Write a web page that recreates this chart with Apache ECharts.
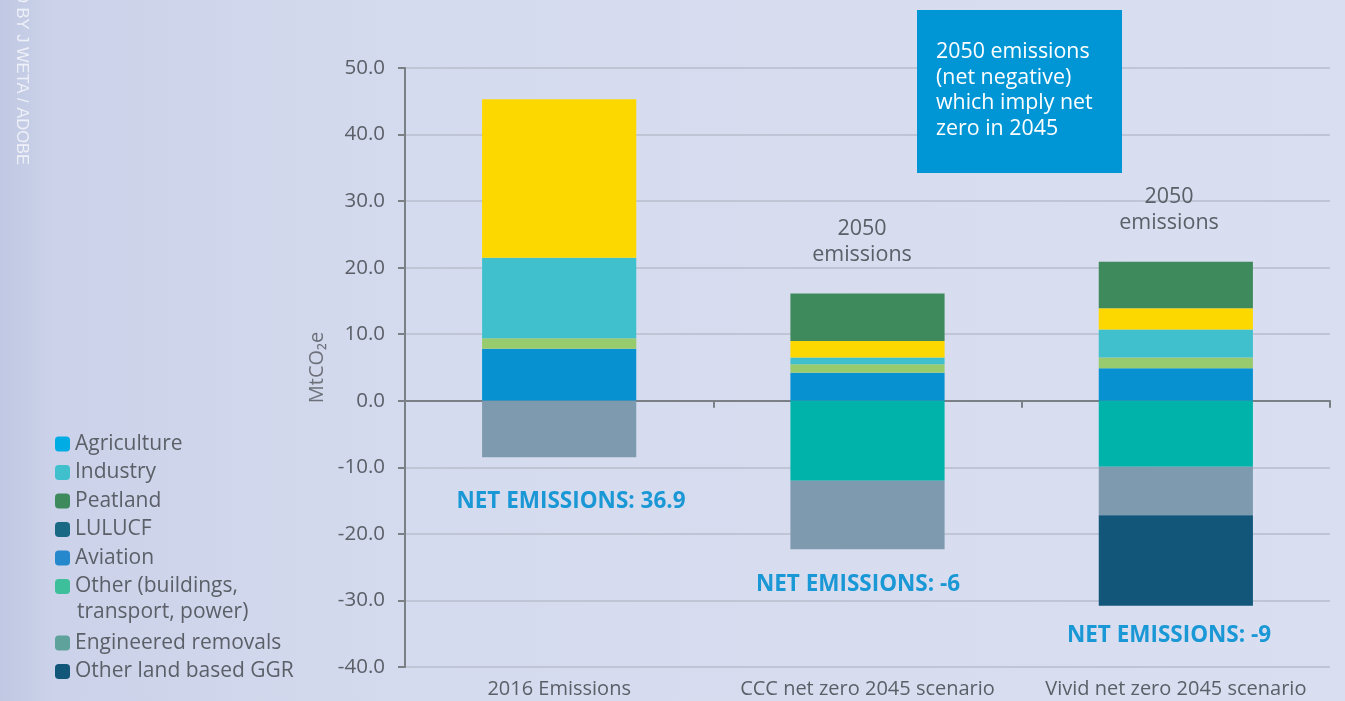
<!DOCTYPE html>
<html>
<head>
<meta charset="utf-8">
<script src="https://cdn.jsdelivr.net/npm/echarts@6/dist/echarts.min.js"></script>
<style>
  html, body { margin: 0; padding: 0; }
  #chart { width: 1345px; height: 701px; }
</style>
</head>
<body>
<div id="chart"></div>
<script>
// values, MtCO2e
var categories = ['2016 Emissions', 'CCC net zero 2045 scenario', 'Vivid net zero 2045 scenario'];
var agriculture = [7.8, 4.2, 4.9];
var aviation = [1.6, 1.3, 1.6];
var industry = [12.1, 1.0, 4.2];
var otherSectors = [23.8, 2.5, 3.2];
var peatland = [null, 7.1, 7.0];
var engineered = [null, -12.0, -9.9];
var lulucf = [-8.5, -10.3, -7.3];
var landGGR = [null, null, -13.6];
var netLabels = ['NET EMISSIONS: 36.9', 'NET EMISSIONS: -6', 'NET EMISSIONS: -9'];
var yTicks = [-40, -30, -20, -10, 0, 10, 20, 30, 40, 50];

var chart = echarts.init(document.getElementById('chart'));
var font = '"Open Sans", "Noto Sans", sans-serif';
var grey = '#5b6068';

function bar(name, data, color) {
    return {
        name: name,
        type: 'bar',
        stack: 'total',
        xAxisIndex: 0,
        barWidth: '50%',
        data: data,
        itemStyle: { color: color },
        emphasis: { disabled: true }
    };
}

var legendText = { fontFamily: font, fontSize: 21, color: grey, lineHeight: 28 };

var option = {
    backgroundColor: new echarts.graphic.LinearGradient(0, 0, 1, 0, [
        { offset: 0, color: '#c0c8e3' },
        { offset: 0.04, color: '#cbd2e9' },
        { offset: 0.3, color: '#d5dbee' },
        { offset: 1, color: '#d9def0' }
    ]),
    animation: false,
    textStyle: { fontFamily: font },
    grid: { left: 405, right: 15, top: 68, bottom: 34, containLabel: false },
    legend: [
        {
            orient: 'vertical',
            left: 50,
            top: 425,
            itemWidth: 15,
            itemHeight: 15,
            itemGap: 0.5,
            selectedMode: false,
            textStyle: legendText,
            formatter: function (n) {
                return n === 'Other (buildings, transport, power)' ? 'Other (buildings,' : n;
            },
            data: [
                { name: 'Agriculture', itemStyle: { color: '#00ace4' } },
                { name: 'Industry', itemStyle: { color: '#3fc0cc' } },
                { name: 'Peatland', itemStyle: { color: '#3e8a5c' } },
                { name: 'LULUCF', itemStyle: { color: '#1a6984' } },
                { name: 'Aviation', itemStyle: { color: '#2587cc' } },
                { name: 'Other (buildings, transport, power)', itemStyle: { color: '#3dbf9b' } }
            ]
        },
        {
            orient: 'vertical',
            left: 50,
            top: 624,
            itemWidth: 15,
            itemHeight: 15,
            itemGap: 0.5,
            selectedMode: false,
            textStyle: legendText,
            data: [
                { name: 'Engineered removals', itemStyle: { color: '#5ea29b' } },
                { name: 'Other land based GGR', itemStyle: { color: '#12567a' } }
            ]
        }
    ],
    xAxis: [
        {
            type: 'category',
            data: categories,
            position: 'bottom',
            axisLine: { show: false, onZero: false },
            axisTick: { show: false },
            axisLabel: { interval: 0, hideOverlap: false, fontFamily: font, fontSize: 20, color: grey, margin: 12 }
        },
        {
            type: 'category',
            data: categories,
            position: 'top',
            axisLine: { onZero: true, lineStyle: { color: '#7b8087', width: 2 } },
            axisTick: { show: true, inside: true, length: 7, lineStyle: { color: '#7b8087', width: 2 } },
            axisLabel: { show: false },
            splitLine: { show: false }
        }
    ],
    yAxis: {
        type: 'value',
        min: yTicks[0],
        max: yTicks[yTicks.length - 1],
        interval: 10,
        name: 'MtCO₂e',
        nameLocation: 'middle',
        nameGap: 77,
        nameTextStyle: { fontFamily: font, fontSize: 20, color: '#6d727a' },
        axisLine: { show: true, lineStyle: { color: '#7b8087', width: 2 } },
        axisTick: { show: true, length: 7, lineStyle: { color: '#7b8087', width: 2 } },
        axisLabel: {
            fontFamily: font, fontSize: 20.5, color: grey, margin: 20,
            formatter: function (v) { return v.toFixed(1); }
        },
        splitLine: { lineStyle: { color: '#bfc5d5', width: 2 } }
    },
    series: [
        bar('Agriculture', agriculture, '#0891d1'),
        bar('Aviation', aviation, '#97cb6e'),
        bar('Industry', industry, '#3fc0cc'),
        bar('Other (buildings, transport, power)', otherSectors, '#fdd800'),
        bar('Peatland', peatland, '#3f8a5c'),
        bar('Engineered removals', engineered, '#00b3aa'),
        bar('LULUCF', lulucf, '#7d9aaf'),
        bar('Other land based GGR', landGGR, '#12567a')
    ],
    graphic: [
        {
            type: 'text', left: 77, top: 602, z: 10,
            style: { text: 'transport, power)', font: '21px ' + font, fill: grey }
        },
        {
            type: 'rect', z: 20, shape: { x: 917, y: 10, width: 205, height: 163 },
            style: { fill: '#0096d6' }
        },
        {
            type: 'text', x: 936, y: 39, z: 30,
            style: {
                text: '2050 emissions\n(net negative)\nwhich imply net\nzero in 2045',
                font: '21.4px ' + font, fill: '#ffffff', lineHeight: 25.7
            }
        },
        {
            type: 'text', x: 862, y: 242, z: 10,
            style: { text: '2050\nemissions', font: '21.5px ' + font, fill: grey, lineHeight: 26, align: 'center', verticalAlign: 'middle' }
        },
        {
            type: 'text', x: 1169, y: 210, z: 10,
            style: { text: '2050\nemissions', font: '21.5px ' + font, fill: grey, lineHeight: 26, align: 'center', verticalAlign: 'middle' }
        },
        {
            type: 'text', x: 571, y: 502, z: 10,
            style: { text: netLabels[0], font: 'bold 22.5px ' + font, fill: '#1a98d5', align: 'center', verticalAlign: 'middle' }
        },
        {
            type: 'text', x: 858, y: 585, z: 10,
            style: { text: netLabels[1], font: 'bold 22.5px ' + font, fill: '#1a98d5', align: 'center', verticalAlign: 'middle' }
        },
        {
            type: 'text', x: 1169, y: 636, z: 10,
            style: { text: netLabels[2], font: 'bold 22.5px ' + font, fill: '#1a98d5', align: 'center', verticalAlign: 'middle' }
        },
        {
            type: 'text', x: 22, y: 165, rotation: -Math.PI / 2, z: 10,
            style: { text: 'PHOTO BY J WETA / ADOBE', font: '16.5px "Liberation Sans", Arial, sans-serif', fill: 'rgba(255,255,255,0.7)', align: 'right', verticalAlign: 'middle' }
        }
    ]
};

chart.setOption(option);
</script>
</body>
</html>
